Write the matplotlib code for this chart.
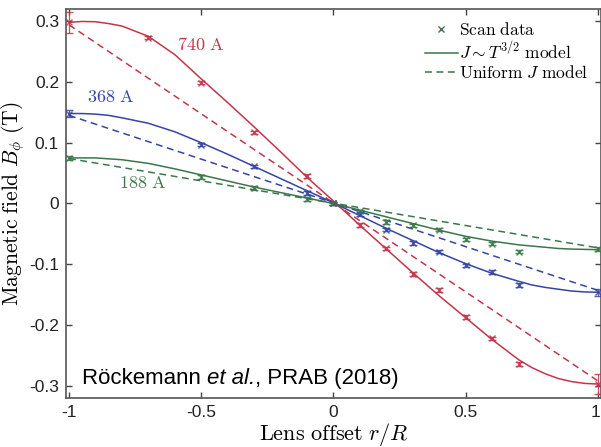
import matplotlib
matplotlib.use("Agg")
import matplotlib.pyplot as plt
from matplotlib.lines import Line2D
from matplotlib.transforms import ScaledTranslation

plt.rcParams["font.family"] = ["Liberation Sans", "DejaVu Sans"]
plt.rcParams["mathtext.fontset"] = "cm"
plt.rcParams["axes.unicode_minus"] = False

# measured field values (T) at lens offset r/R
r_740 = [-1.0, -0.7, -0.5, -0.3, -0.1, 0.0, 0.1, 0.2, 0.3, 0.4, 0.5, 0.6, 0.7, 1.0]
b_740 = [0.298, 0.273, 0.199, 0.117, 0.045, 0.0, -0.035, -0.074, -0.116, -0.142,
         -0.187, -0.222, -0.264, -0.297]
e_740 = [0.017, 0.003, 0.003, 0.003, 0.003, 0.003, 0.003, 0.003, 0.003, 0.003,
         0.003, 0.003, 0.003, 0.017]

r_368 = [-1.0, -0.5, -0.3, -0.1, 0.0, 0.1, 0.2, 0.3, 0.4, 0.5, 0.6, 0.7, 1.0]
b_368 = [0.148, 0.097, 0.061, 0.017, 0.0, -0.017, -0.043, -0.065, -0.079, -0.102,
         -0.113, -0.134, -0.146]
e_368 = [0.006, 0.003, 0.003, 0.003, 0.003, 0.003, 0.003, 0.003, 0.003, 0.003,
         0.003, 0.003, 0.006]

r_188 = [-1.0, -0.5, -0.3, -0.1, 0.0, 0.1, 0.2, 0.3, 0.4, 0.5, 0.6, 0.7, 1.0]
b_188 = [0.075, 0.044, 0.025, 0.007, 0.0, -0.013, -0.030, -0.036, -0.043, -0.059,
         -0.066, -0.079, -0.075]
e_188 = [0.003, 0.003, 0.003, 0.003, 0.003, 0.003, 0.003, 0.003, 0.003, 0.003,
         0.003, 0.003, 0.003]

# J ~ T^(3/2) model curves
r_model = [-1.0, -0.95, -0.9, -0.85, -0.8, -0.7, -0.6, -0.5, -0.4, -0.3, -0.2, -0.1, 0.0,
           0.1, 0.2, 0.3, 0.4, 0.5, 0.6, 0.7, 0.75, 0.8, 0.85, 0.9, 0.95, 1.0]
t_740 = [0.298, 0.2995, 0.299, 0.296, 0.292, 0.275, 0.245, 0.205, 0.166, 0.126, 0.085,
         0.043, 0.004, -0.036, -0.075, -0.114, -0.152, -0.188, -0.224, -0.257, -0.270,
         -0.280, -0.288, -0.293, -0.296, -0.297]
t_368 = [0.148, 0.148, 0.147, 0.145, 0.141, 0.132, 0.118, 0.100, 0.081, 0.061, 0.041,
         0.021, 0.001, -0.020, -0.041, -0.061, -0.081, -0.099, -0.115, -0.128, -0.134,
         -0.138, -0.141, -0.144, -0.1455, -0.146]
t_188 = [0.075, 0.075, 0.075, 0.0735, 0.072, 0.066, 0.057, 0.047, 0.037, 0.027, 0.018,
         0.009, 0.000, -0.011, -0.022, -0.033, -0.044, -0.054, -0.062, -0.068, -0.070,
         -0.072, -0.074, -0.075, -0.0755, -0.076]

# uniform J model (straight lines)
r_lin = [-1.0, 1.0]
u_740 = [0.294, -0.292]
u_368 = [0.145, -0.143]
u_188 = [0.074, -0.073]

red = "#c4354a"
blue = "#3445a6"
green = "#3b774a"

xticks = [-1, -0.5, 0, 0.5, 1]
xtick_labels = ["-1", "-0.5", "0", "0.5", "1"]
yticks = [-0.3, -0.2, -0.1, 0, 0.1, 0.2, 0.3]
ytick_labels = ["-0.3", "-0.2", "-0.1", "0", "0.1", "0.2", "0.3"]

fig = plt.figure(figsize=(6.01, 4.47), dpi=100)
ax = fig.add_axes([0.1098, 0.1096, 0.8902, 0.8703])

dash = (0, (4.5, 3))
for rm, tm, um, rd, bd, ed, c in [
    (r_model, t_740, u_740, r_740, b_740, e_740, red),
    (r_model, t_368, u_368, r_368, b_368, e_368, blue),
    (r_model, t_188, u_188, r_188, b_188, e_188, green),
]:
    ax.plot(rm, tm, color=c, lw=1.1)
    ax.plot(r_lin, um, color=c, lw=1.1, linestyle=dash)
    ax.errorbar(rd, bd, yerr=ed, fmt="x", color=c, ms=4.5, mew=1.0,
                elinewidth=0.9, capsize=2.8, capthick=0.9, alpha=0.85, zorder=3)

tkw = dict(fontsize=13, math_fontfamily="cm")
ax.text(-0.59, 0.26, r"$\mathrm{740\ A}$", color=red, va="center", ha="left", **tkw)
ax.text(-0.93, 0.175, r"$\mathrm{368\ A}$", color=blue, va="center", ha="left", **tkw)
ax.text(-0.81, 0.033, r"$\mathrm{188\ A}$", color=green, va="center", ha="left", **tkw)

# citation line, italic part chained onto the plain parts
c1 = ax.text(-0.95, -0.305, "Röckemann ", fontsize=16, va="bottom", ha="left")
c2 = ax.annotate("et al.", xy=(1, 0), xycoords=c1, fontsize=16, style="italic",
                 va="bottom", ha="left")
ax.annotate(", PRAB (2018)", xy=(1, 0), xycoords=c2, fontsize=16,
            va="bottom", ha="left")

ax.set_xlim(-1.0113, 1.0113)
ax.set_ylim(-0.32, 0.32)
ax.set_xticks(xticks)
ax.set_xticklabels(xtick_labels)
ax.set_yticks(yticks)
ax.set_yticklabels(ytick_labels)
ax.tick_params(direction="in", length=4, width=1, colors="#444444", labelcolor="#222222",
               labelsize=12.5, top=True, right=True, pad=5)
for s in ax.spines.values():
    s.set_color("#555555")
    s.set_linewidth(1.2)

# keep the last x tick label inside the figure edge
last = ax.get_xticklabels()[-1]
last.set_transform(last.get_transform() + ScaledTranslation(-3 / 100, 0, fig.dpi_scale_trans))

ax.set_xlabel(r"$\mathrm{Lens\ offset}\ r/R$", fontsize=16, math_fontfamily="cm",
              labelpad=1)
ax.set_ylabel(r"$\mathrm{Magnetic\ field}\ B_\phi\ \mathrm{(T)}$", fontsize=15.5,
              math_fontfamily="cm")
ax.yaxis.set_label_coords(-0.073, 0.5)

handles = [
    Line2D([], [], color=green, marker="x", ms=4, mew=1, linestyle="none"),
    Line2D([], [], color=green, lw=1.1),
    Line2D([], [], color=green, lw=1.1, linestyle=dash),
]
labels = [r"$\mathrm{Scan\ data}$", r"$J \sim T^{3/2}\ \mathrm{model}$",
          r"$\mathrm{Uniform}\ J\ \mathrm{model}$"]
leg = ax.legend(handles, labels, loc="upper right", bbox_to_anchor=(1.0, 1.0),
                frameon=False, fontsize=12.5, handlelength=1.9, handletextpad=0.1,
                labelspacing=0.1, borderaxespad=0.3)

fig.savefig("out.png", dpi=100)
